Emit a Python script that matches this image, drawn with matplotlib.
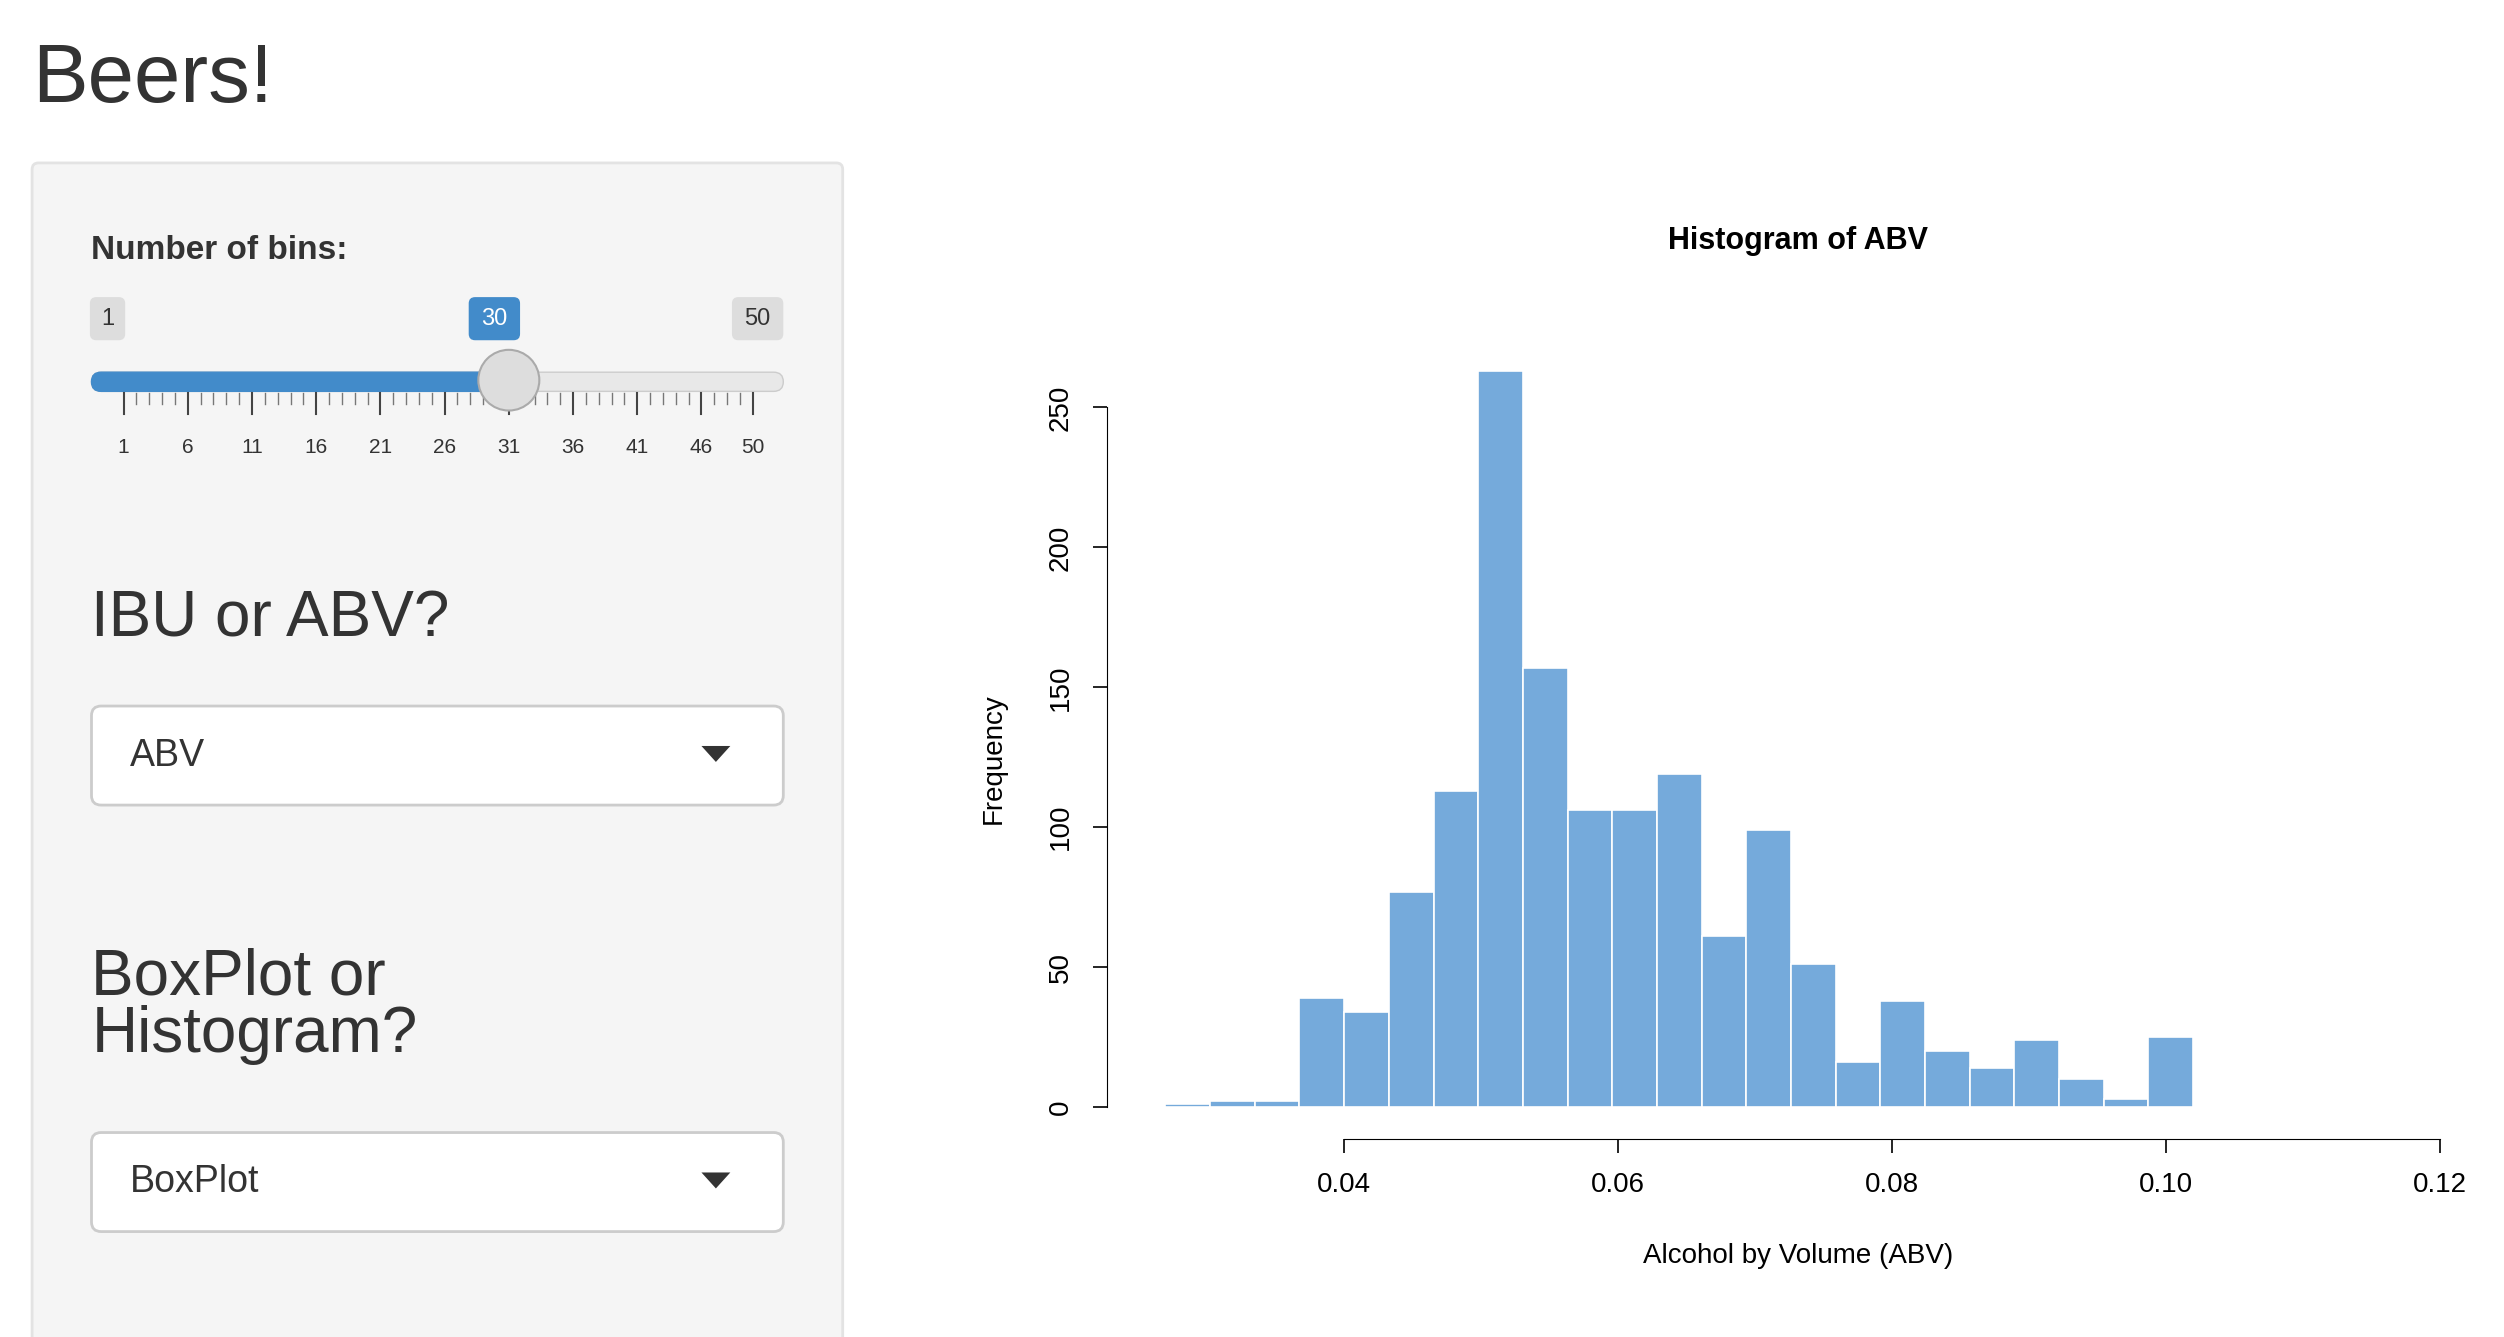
import numpy as np
import matplotlib
matplotlib.use("Agg")
import matplotlib.pyplot as plt
from matplotlib.patches import FancyBboxPatch, Rectangle, Circle, Polygon

plt.rcParams['font.family'] = ['Liberation Sans', 'DejaVu Sans']

# histogram data (ABV, 30 requested bins)
bin_edges = np.linspace(0.027, 0.102, 24)
counts = [1, 2, 2, 39, 34, 77, 113, 263, 157, 106, 106, 119, 61, 99, 51,
          16, 38, 20, 14, 24, 10, 3, 25]
x_ticks = [0.04, 0.06, 0.08, 0.10, 0.12]
x_labels = ["0.04", "0.06", "0.08", "0.10", "0.12"]
y_ticks = [0, 50, 100, 150, 200, 250]
slider_labels = [1, 6, 11, 16, 21, 26, 31, 36, 41, 46, 50]
slider_value = 30

TXT = '#333333'
fig = plt.figure(figsize=(25.04, 13.37), dpi=100)

# background layer in reference pixel coords (1560 x 837)
bg = fig.add_axes([0, 0, 1, 1])
bg.set_xlim(0, 1560)
bg.set_ylim(837, 0)
bg.axis('off')

bg.text(20, 50, "Beers!", fontsize=60, color=TXT, va='center')
bg.add_patch(FancyBboxPatch((20, 102), 505, 760, boxstyle="round,pad=0,rounding_size=4",
                            fc='#f5f5f5', ec='#e3e3e3', lw=2))
bg.text(57, 157, "Number of bins:", fontsize=24, fontweight='bold', color=TXT, va='center')

# slider
def sx(v):
    return 77 + (v - 1) * (469 - 77) / 49

bg.add_patch(FancyBboxPatch((57, 233), 431, 12, boxstyle="round,pad=0,rounding_size=6",
                            fc='#e8e8e8', ec='#cccccc', lw=1))
bg.add_patch(FancyBboxPatch((57, 233), sx(slider_value) + 8 - 57, 12,
                            boxstyle="round,pad=0,rounding_size=6", fc='#428bca', ec='#428bca', lw=1))
for v in range(1, 51):
    if (v - 1) % 5 == 0 or v == 50:
        bg.plot([sx(v), sx(v)], [246, 259], color='#444444', lw=1.5)
    else:
        bg.plot([sx(v), sx(v)], [246, 253], color='#777777', lw=1)
for v in slider_labels:
    bg.text(sx(v), 280, str(v), fontsize=15, color=TXT, ha='center', va='center')
bg.add_patch(Circle((sx(slider_value) + 8, 238), 19, fc='#dddddd', ec='#aaaaaa', lw=1.5, zorder=5))

for x, lab, fc, tc in [(67, "1", '#dddddd', TXT), (308, "30", '#428bca', 'white'), (472, "50", '#dddddd', TXT)]:
    w = 12 + 10 * len(lab)
    bg.add_patch(FancyBboxPatch((x - w / 2, 186), w, 27, boxstyle="round,pad=0,rounding_size=4",
                                fc=fc, ec='none'))
    bg.text(x, 200, lab, fontsize=17, color=tc, ha='center', va='center')

bg.text(57, 388, "IBU or ABV?", fontsize=46, color=TXT, va='center')
bg.text(57, 630, "BoxPlot or\nHistogram?", fontsize=46, color=TXT, va='center', linespacing=0.95)

for y0, lab in [(442, "ABV"), (709, "BoxPlot")]:
    bg.add_patch(FancyBboxPatch((57, y0), 431, 62, boxstyle="round,pad=0,rounding_size=6",
                                fc='white', ec='#cccccc', lw=2))
    bg.text(81, y0 + 31, lab, fontsize=27, color=TXT, va='center')
    bg.add_patch(Polygon([[437, y0 + 25], [455, y0 + 25], [446, y0 + 35]], closed=True, fc=TXT, ec='none'))

# histogram axes: left 700px, right 1540px, top 230px, bottom 720px
ax = fig.add_axes([700 / 1560, 1 - 720 / 837, 840 / 1560, 490 / 837])
ax.hist(bin_edges[:-1], bins=bin_edges, weights=counts, color='#75aadb', edgecolor='white', lw=1.2)
ax.set_xlim(0.02395, 0.12234)
ax.set_ylim(-15.4, 264.3)
for s in ['top', 'right']:
    ax.spines[s].set_visible(False)
ax.spines['left'].set_position(('axes', -0.012))
ax.spines['bottom'].set_position(('axes', 0.0143))
ax.spines['left'].set_bounds(0, 250)
ax.spines['bottom'].set_bounds(0.04, 0.12)
ax.set_xticks(x_ticks, x_labels)
ax.set_yticks(y_ticks)
ax.tick_params(axis='both', labelsize=20, length=10, width=1.2, pad=14)
plt.setp(ax.get_yticklabels(), rotation=90, va='center')
ax.set_facecolor('none')
ax.set_title("Histogram of ABV", fontsize=22, fontweight='bold', pad=85)
ax.set_xlabel("Alcohol by Volume (ABV)", fontsize=20, labelpad=32)
ax.set_ylabel("Frequency", fontsize=20, labelpad=30)

fig.savefig("out.png", dpi=100)
